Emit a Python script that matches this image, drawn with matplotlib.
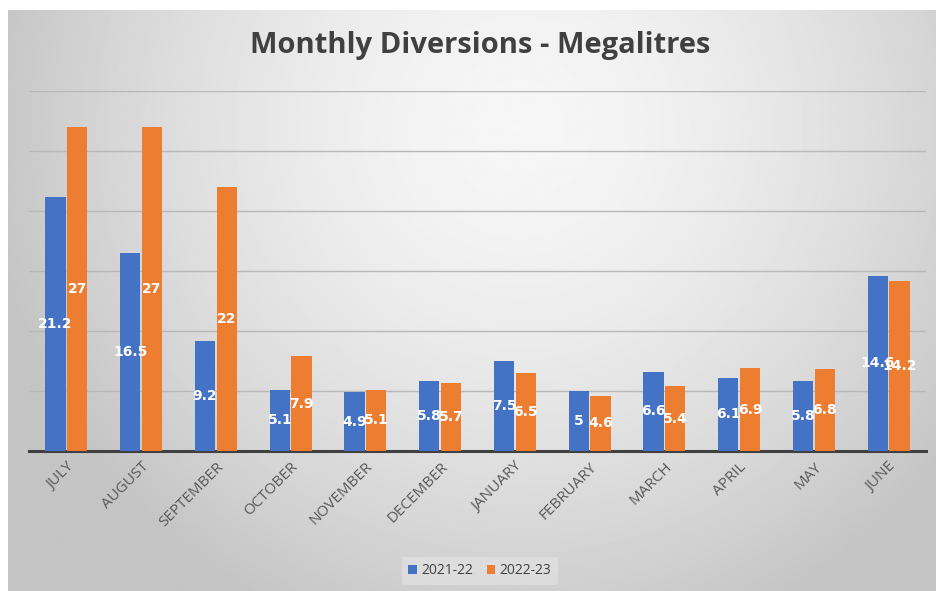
import numpy as np
import matplotlib
matplotlib.use("Agg")
import matplotlib.pyplot as plt

# Monthly diversions chart, two financial years side by side
months = ["JULY", "AUGUST", "SEPTEMBER", "OCTOBER", "NOVEMBER", "DECEMBER",
          "JANUARY", "FEBRUARY", "MARCH", "APRIL", "MAY", "JUNE"]
fy_2122 = [21.2, 16.5, 9.2, 5.1, 4.9, 5.8, 7.5, 5, 6.6, 6.1, 5.8, 14.6]
fy_2223 = [27, 27, 22, 7.9, 5.1, 5.7, 6.5, 4.6, 5.4, 6.9, 6.8, 14.2]
series_names = ["2021-22", "2022-23"]

blue = "#4472C4"
orange = "#ED7D31"

fig = plt.figure(figsize=(9.37, 5.91), dpi=100)
fig.patch.set_facecolor("white")

# gray radial background of the chart area (lighter near the title)
bg = fig.add_axes([8 / 937, 0, 1 - 8 / 937, 1 - 10 / 591])
gx, gy = np.meshgrid(np.linspace(0, 1, 400), np.linspace(0, 1, 260))
dx = (gx - 0.55) / 0.55
dy = (gy - 0.2) / 0.8 * 0.9
r = np.clip(np.sqrt(dx ** 2 + dy ** 2), 0, 1.05)
shade = 0.965 - 0.18 * r ** 1.6
bg.imshow(shade, cmap="gray", vmin=0, vmax=1, aspect="auto",
          extent=[0, 1, 0, 1], origin="upper")
bg.set_axis_off()

ax = fig.add_axes([29 / 937, 1 - 451 / 591, 897 / 937, 360 / 591])
ax.patch.set_alpha(0)

x = np.arange(len(months))
w = 0.27
b1 = ax.bar(x - 0.145, fy_2122, w, color=blue, label=series_names[0], zorder=3)
b2 = ax.bar(x + 0.145, fy_2223, w, color=orange, label=series_names[1], zorder=3)

for bars, vals in ((b1, fy_2122), (b2, fy_2223)):
    for rect, v in zip(bars, vals):
        ax.text(rect.get_x() + rect.get_width() / 2, v / 2, f"{v:g}",
                ha="center", va="center", color="white", fontsize=10,
                fontweight="bold", zorder=4)

ax.set_xlim(-0.5, len(months) - 0.5)
ax.set_ylim(0, 30)
ax.set_yticks(np.arange(5, 31, 5))
ax.yaxis.grid(True, color="#b8b8b8", linewidth=1)
ax.tick_params(axis="y", left=False, labelleft=False)
ax.tick_params(axis="x", length=0, pad=6)
ax.set_xticks(x)
ax.set_xticklabels(months, rotation=45, ha="right", rotation_mode="anchor",
                   fontsize=11, color="#595959", family="Open Sans")
for s in ["top", "right", "left"]:
    ax.spines[s].set_visible(False)
ax.spines["bottom"].set_color("#404040")
ax.spines["bottom"].set_linewidth(2.2)

fig.text(0.512, 1 - 46 / 591, "Monthly Diversions - Megalitres", ha="center",
         va="center", fontsize=21, fontweight="bold", color="#404040",
         family="Open Sans")

leg = fig.legend(handles=[b1, b2], loc="center", bbox_to_anchor=(0.512, 1 - 571 / 591),
                 ncol=2, frameon=True, fontsize=10, handlelength=0.6,
                 handleheight=0.6, handletextpad=0.3, columnspacing=1.0,
                 borderpad=0.5)
leg.get_frame().set_facecolor("#e2e2e2")
leg.get_frame().set_edgecolor("none")
leg.get_frame().set_alpha(0.7)
for t in leg.get_texts():
    t.set_color("#404040")
    t.set_family("Open Sans")

fig.savefig("out.png", dpi=100)
